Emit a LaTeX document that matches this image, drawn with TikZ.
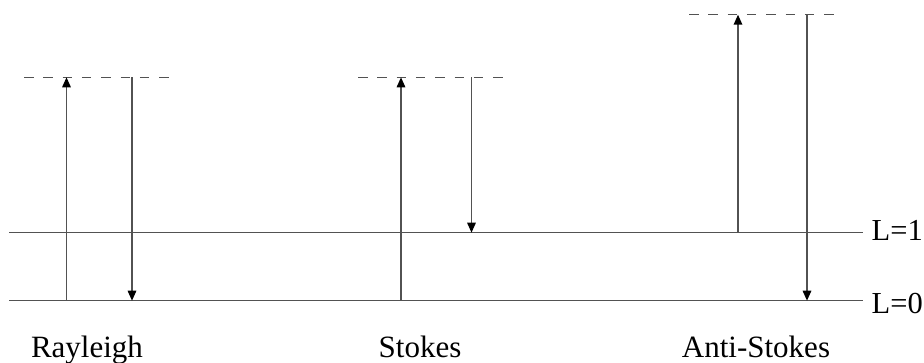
\documentclass[tikz,border=0pt]{standalone}
\usepackage{fontspec}
\setmainfont{Liberation Serif}
\usetikzlibrary{arrows.meta}
\begin{document}
\begin{tikzpicture}[x=1pt,y=-1pt,
  level/.style={draw=black!68, line width=1.5pt},
  virt/.style={draw=black!68, line width=1.5pt, dash pattern=on 9.5pt off 9.8pt},
  trans/.style={draw=black!68, line width=1.5pt, -{Triangle[length=10pt,width=8.5pt,color=black]}},
  lbl/.style={font=\fontsize{31}{36}\selectfont, inner sep=0pt, anchor=base},
  lvl/.style={font=\fontsize{30.5}{36}\selectfont, inner sep=0pt, anchor=base west}]
\useasboundingbox (0,0) rectangle (924,362);
% energy levels
\coordinate (l0a) at (9,300.7);
\coordinate (l0b) at (863,300.7);
\coordinate (l1a) at (9,232.7);
\coordinate (l1b) at (863,232.7);
\draw[level] (l0a) -- (l0b);
\draw[level] (l1a) -- (l1b);
\node[lvl] (L0) at (871.5,313) {L=0};
\node[lvl] (L1) at (871.5,240) {L=1};
% virtual levels
\coordinate (va1) at (24,77.3);
\coordinate (vb1) at (174,77.3);
\coordinate (va2) at (358,77.3);
\coordinate (vb2) at (508,77.3);
\coordinate (va3) at (689,14.7);
\coordinate (vb3) at (839,14.7);
\draw[virt] (va1) -- (vb1);
\draw[virt] (va2) -- (vb2);
\draw[virt] (va3) -- (vb3);
% Rayleigh
\coordinate (r1s) at (66.5,300.7);
\coordinate (r1e) at (66.5,77.3);
\coordinate (r2s) at (132,77.3);
\coordinate (r2e) at (132,300.7);
\draw[trans] (r1s) -- (r1e);
\draw[trans] (r2s) -- (r2e);
% Stokes
\coordinate (s1s) at (401,300.7);
\coordinate (s1e) at (401,77.3);
\coordinate (s2s) at (471.5,77.3);
\coordinate (s2e) at (471.5,232.7);
\draw[trans] (s1s) -- (s1e);
\draw[trans] (s2s) -- (s2e);
% Anti-Stokes
\coordinate (a1s) at (738,232.7);
\coordinate (a1e) at (738,14.7);
\coordinate (a2s) at (807,14.7);
\coordinate (a2e) at (807,300.7);
\draw[trans] (a1s) -- (a1e);
\draw[trans] (a2s) -- (a2e);
% labels
\node[lbl] (ray) at (87,357.3) {Rayleigh};
\node[lbl] (sto) at (420,357.3) {Stokes};
\node[lbl] (ast) at (756,357.3) {Anti-Stokes};
\end{tikzpicture}
\end{document}
